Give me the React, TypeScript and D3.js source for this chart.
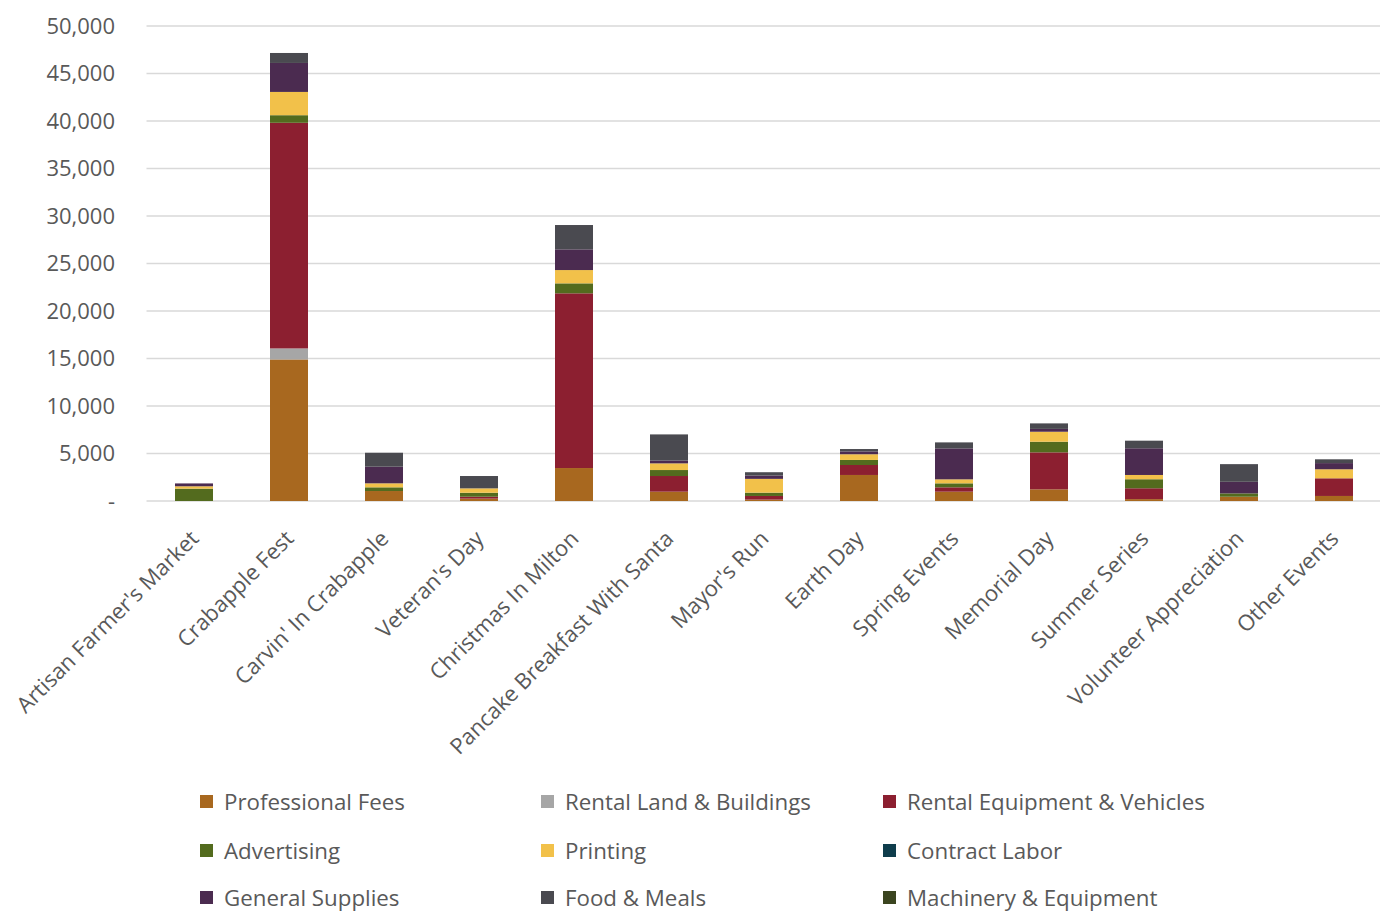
import React from "react";
import * as d3 from "d3";

const categories = [
  "Artisan Farmer's Market",
  "Crabapple Fest",
  "Carvin' In Crabapple",
  "Veteran's Day",
  "Christmas In Milton",
  "Pancake Breakfast With Santa",
  "Mayor's Run",
  "Earth Day",
  "Spring Events",
  "Memorial Day",
  "Summer Series",
  "Volunteer Appreciation",
  "Other Events",
];

const seriesNames = [
  "Professional Fees",
  "Rental Land & Buildings",
  "Rental Equipment & Vehicles",
  "Advertising",
  "Printing",
  "Contract Labor",
  "General Supplies",
  "Food & Meals",
  "Machinery & Equipment",
];

const seriesColors = [
  "#a8681f",
  "#a6a6a6",
  "#8c1f30",
  "#536b1e",
  "#f2c14a",
  "#0f3d4c",
  "#4b2b50",
  "#4a4a50",
  "#3b4520",
];

const professionalFees = [0, 14900, 1050, 250, 3470, 980, 150, 2740, 980, 1230, 200, 450, 530];
const rentalLand = [0, 1160, 0, 0, 0, 0, 0, 0, 0, 0, 0, 0, 0];
const rentalEquipment = [0, 23750, 0, 200, 18390, 1650, 380, 1050, 460, 3890, 1140, 0, 1860];
const advertising = [1300, 800, 390, 420, 1050, 630, 350, 530, 420, 1120, 950, 350, 0];
const printing = [250, 2450, 420, 460, 1400, 700, 1450, 600, 420, 1050, 450, 0, 950];
const contractLabor = [0, 0, 0, 0, 0, 0, 0, 0, 0, 0, 0, 0, 0];
const generalSupplies = [300, 3050, 1750, 0, 2180, 300, 350, 300, 3260, 300, 2810, 1220, 650];
const foodMeals = [0, 1050, 1470, 1300, 2560, 2750, 350, 250, 630, 580, 800, 1860, 400];
const machinery = [0, 0, 0, 0, 0, 0, 0, 0, 0, 0, 0, 0, 0];

const seriesValues = [
  professionalFees,
  rentalLand,
  rentalEquipment,
  advertising,
  printing,
  contractLabor,
  generalSupplies,
  foodMeals,
  machinery,
];

const yTicks = [0, 5000, 10000, 15000, 20000, 25000, 30000, 35000, 40000, 45000, 50000];

const FONT = "'Open Sans', Lato, sans-serif";
const TEXT = "#595959";

export default function App() {
  const width = 1385;
  const height = 914;
  const left = 146.5;
  const right = 1381.5;
  const top = 26;
  const bottom = 501;

  const x = d3.scaleBand<string>().domain(categories).range([left, right]).paddingInner(0.6).paddingOuter(0.3);
  const y = d3.scaleLinear().domain([0, 50000]).range([bottom, top]);

  const rows = categories.map((c, i) => {
    const r: Record<string, number | string> = { cat: c };
    seriesNames.forEach((s, j) => (r[s] = seriesValues[j][i]));
    return r;
  });
  const stacked = d3.stack<any>().keys(seriesNames)(rows as any);
  const fmt = d3.format(",");

  const legendCols = [200, 541, 883];
  const legendRows = [802, 851, 898];

  return (
    <svg
      width={width}
      height={height}
      style={{ position: "absolute", left: 0, top: 0, background: "#fff" }}
      fontFamily={FONT}
    >
      <rect width={width} height={height} fill="#fff" />
      {yTicks.map((t) => (
        <g key={t}>
          <line x1={left} x2={1380} y1={y(t)} y2={y(t)} stroke="#d9d9d9" strokeWidth={1.5} />
          <text x={115} y={y(t)} dy="0.35em" textAnchor="end" fontSize={22} fill={TEXT}>
            {t === 0 ? "-" : fmt(t)}
          </text>
        </g>
      ))}
      {stacked.map((layer, j) => (
        <g key={layer.key} fill={seriesColors[j]}>
          {layer.map((d, i) => {
            const h = y(d[0]) - y(d[1]);
            if (h <= 0) return null;
            return (
              <rect
                key={i}
                x={x(categories[i])!}
                width={x.bandwidth()}
                y={y(d[1])}
                height={h}
              />
            );
          })}
        </g>
      ))}
      {categories.map((c) => {
        const cx = x(c)! + x.bandwidth() / 2 + 6;
        const cy = 540;
        return (
          <text
            key={c}
            transform={`translate(${cx},${cy}) rotate(-45)`}
            textAnchor="end"
            fontSize={22}
            fill={TEXT}
          >
            {c}
          </text>
        );
      })}
      {seriesNames.map((s, i) => {
        const col = i % 3;
        const row = Math.floor(i / 3);
        const lx = legendCols[col];
        const ly = legendRows[row];
        return (
          <g key={s}>
            <rect x={lx} y={ly - 7} width={13} height={13} fill={seriesColors[i]} />
            <text x={lx + 24} y={ly} dy="0.35em" fontSize={22.3} fill={TEXT}>
              {s}
            </text>
          </g>
        );
      })}
    </svg>
  );
}
